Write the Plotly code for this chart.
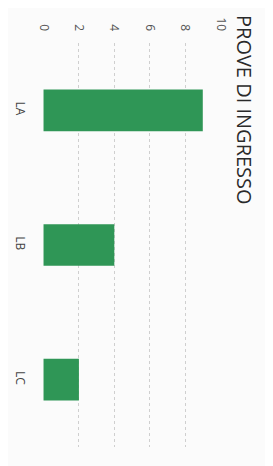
import plotly.graph_objects as go

categories = ["LA", "LB", "LC"]
values = [9, 4, 2]
tick_vals = [0, 2, 4, 6, 8, 10]
tick_text = ["0", "2", "4", "6", "8", "10"]
title_text = "PROVE DI INGRESSO"

# page body has an 8px margin: figure is sized so it fills the 273x466 window
OFF = 8
W, H = 273 - OFF, 466 - OFF
# plot area in window pixels: x 43..221, y 43..447
L, R, T, B = 43 - OFF, 273 - 221, 43 - OFF, 466 - 447

pw, ph = W - L - R, H - T - B

def px(x):  # window x -> paper
    return (x - OFF - L) / pw

def py(y):  # window y -> paper
    return (H - B - (y - OFF)) / ph

fig = go.Figure()
fig.add_trace(go.Bar(
    x=values, y=categories, orientation="h",
    marker=dict(color="#2f9656", line=dict(width=0)),
    width=0.31,
))

fig.update_layout(
    width=W, height=H,
    margin=dict(l=L, r=R, t=T, b=B),
    paper_bgcolor="#fbfbfb",
    plot_bgcolor="#fbfbfb",
    showlegend=False,
    font=dict(family="Open Sans, Liberation Sans, sans-serif", color="#555"),
    xaxis=dict(
        range=[-0.03, 10.03], side="top", tickvals=tick_vals, ticktext=tick_text,
        tickangle=90, showgrid=True, gridcolor="#cfcfcf", griddash="dot",
        gridwidth=1, zeroline=False, showline=False, ticks="",
        tickfont=dict(size=12, color="#555"), ticklabelstandoff=9,
        automargin=False,
    ),
    yaxis=dict(
        categoryorder="array", categoryarray=categories, autorange="reversed",
        tickangle=90, showgrid=False, zeroline=False, showline=False, ticks="",
        tickfont=dict(size=12, color="#444"), ticklabelstandoff=14,
        automargin=False,
    ),
    annotations=[dict(
        text=title_text, textangle=90, showarrow=False,
        xref="paper", yref="paper",
        x=px(245), y=py(110),
        xanchor="center", yanchor="middle",
        font=dict(size=20, color="#2a2a2a"),
    )],
)

fig.write_html("out.html")
